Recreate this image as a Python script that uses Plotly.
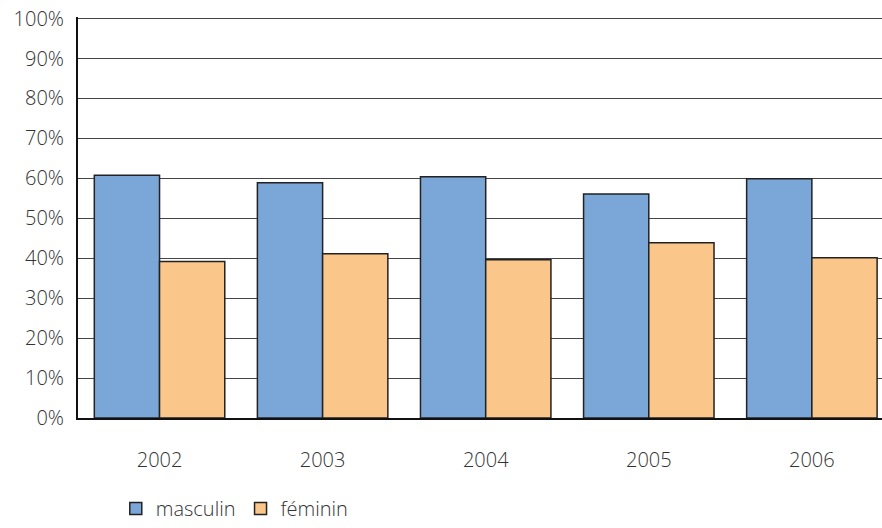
import plotly.graph_objects as go

years = ["2002", "2003", "2004", "2005", "2006"]
masculin = [60.8, 58.9, 60.4, 56.1, 59.9]
feminin = [39.2, 41.1, 39.6, 43.9, 40.1]
y_ticks = [0, 10, 20, 30, 40, 50, 60, 70, 80, 90, 100]
y_labels = [f"{v}%" for v in y_ticks]

fig = go.Figure()
fig.add_trace(go.Bar(x=years, y=masculin, name="masculin",
                     marker=dict(color="#7BA6D8", line=dict(color="#222222", width=1.5))))
fig.add_trace(go.Bar(x=years, y=feminin, name="féminin",
                     marker=dict(color="#FBC68A", line=dict(color="#222222", width=1.5))))

fig.update_layout(
    width=882, height=528,
    margin=dict(l=78, r=0, t=17, b=100),
    plot_bgcolor="white", paper_bgcolor="white",
    barmode="group", bargap=0.2, bargroupgap=0,
    font=dict(family="Open Sans", size=20, color="#333333", weight=300),
    legend=dict(orientation="h", x=0.047, xanchor="left", y=-0.226, yanchor="middle",
                font=dict(size=20, color="#333333", weight=300), traceorder="normal"),
    xaxis=dict(range=[-0.5, 4.43], showgrid=False, showline=True, linecolor="#111111",
               linewidth=2, ticks="", ticklabelstandoff=23,
               tickfont=dict(size=20, weight=300), automargin=False),
    yaxis=dict(range=[0, 100.4], tickvals=y_ticks, ticktext=y_labels, showgrid=True,
               gridcolor="#444444", gridwidth=1, showline=True, linecolor="#111111",
               linewidth=2, ticks="", ticklabelstandoff=8, zeroline=False,
               tickfont=dict(size=20, weight=300), automargin=False),
)
fig.write_html("out.html", config={"displayModeBar": False, "responsive": False},
               post_script="document.body.style.margin='0';")
